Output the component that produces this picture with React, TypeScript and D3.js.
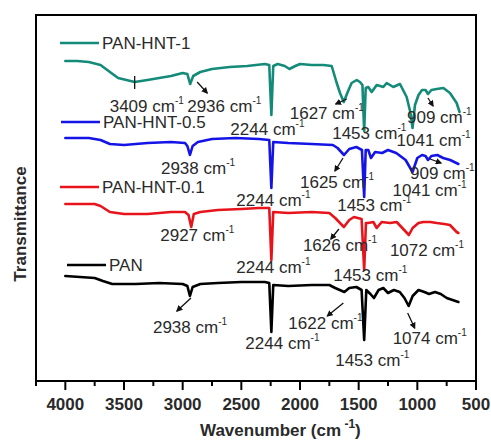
import React from "react";
import * as d3 from "d3";

// FTIR spectra: [wavenumber (cm^-1), transmittance (a.u., stacked with offsets)]
const panHnt1: [number, number][] = [
  [4000, 320], [3900, 320], [3800, 319], [3700, 316], [3620, 309], [3550, 303], [3409, 299],
  [3300, 301], [3200, 303], [3100, 305], [3000, 308], [2960, 307], [2936, 297], [2910, 305],
  [2850, 309], [2750, 312], [2600, 314], [2450, 315], [2300, 317], [2262, 316], [2244, 266],
  [2228, 315], [2190, 317], [2130, 315], [2090, 312], [2040, 315], [2000, 317], [1900, 316],
  [1800, 316], [1730, 315], [1687, 298], [1659, 288], [1627, 279], [1590, 290], [1560, 298],
  [1517, 301], [1489, 299], [1468, 296], [1453, 250], [1440, 293], [1418, 294], [1389, 289],
  [1346, 296], [1290, 294], [1261, 298], [1205, 294], [1148, 297], [1091, 284], [1060, 269],
  [1041, 253], [1020, 276], [990, 286], [960, 291], [930, 291], [909, 287], [880, 291],
  [835, 292], [778, 293], [722, 288], [665, 278], [640, 269],
];

const panHnt05: [number, number][] = [
  [4000, 243], [3800, 243], [3700, 241], [3620, 237], [3500, 236], [3300, 238], [3100, 239],
  [2980, 238], [2960, 235], [2938, 226], [2915, 235], [2870, 239], [2750, 242], [2550, 243],
  [2350, 242], [2262, 241], [2244, 193], [2228, 239], [2100, 238], [1900, 237], [1720, 236],
  [1680, 233], [1625, 226], [1580, 232], [1520, 234], [1472, 231], [1453, 184], [1440, 231],
  [1418, 231], [1395, 223], [1360, 229], [1300, 228], [1250, 231], [1180, 228], [1100, 221],
  [1041, 209], [1000, 223], [960, 226], [930, 225], [909, 221], [880, 225], [830, 226],
  [780, 223], [720, 221], [650, 217],
];

const panHnt01: [number, number][] = [
  [4000, 177], [3750, 177], [3700, 175], [3620, 169], [3500, 167], [3300, 167], [3100, 169],
  [2980, 169], [2950, 166], [2927, 154], [2905, 167], [2850, 169], [2700, 171], [2500, 172],
  [2350, 173], [2262, 173], [2244, 121], [2228, 169], [2100, 168], [1900, 169], [1750, 168],
  [1700, 163], [1626, 154], [1580, 161], [1540, 164], [1475, 162], [1453, 111], [1438, 158],
  [1420, 158], [1375, 159], [1346, 153], [1304, 159], [1233, 158], [1176, 159], [1120, 152],
  [1072, 146], [1040, 153], [990, 158], [949, 159], [890, 159], [835, 158], [770, 157],
  [722, 156], [665, 149], [650, 148],
];

const pan: [number, number][] = [
  [4000, 105], [3750, 103], [3680, 100], [3600, 97], [3400, 97], [3200, 98], [3000, 97],
  [2960, 95], [2938, 85], [2915, 94], [2850, 97], [2700, 98], [2500, 99], [2300, 99],
  [2262, 98], [2244, 49], [2228, 96], [2100, 95], [1900, 96], [1750, 96], [1700, 93],
  [1622, 89], [1580, 93], [1520, 94], [1475, 91], [1453, 41], [1435, 91], [1400, 87],
  [1370, 83], [1330, 91], [1290, 93], [1250, 88], [1200, 91], [1150, 89], [1110, 83],
  [1074, 75], [1040, 85], [990, 91], [940, 89], [900, 87], [850, 89], [800, 87], [750, 83],
  [700, 81], [650, 79],
];

const xTicks = [4000, 3500, 3000, 2500, 2000, 1500, 1000, 500];
const xMinorTicks = [4250, 3750, 3250, 2750, 2250, 1750, 1250, 750];

type Ann = { wn: number; dx: number; dy: number; arrow?: [number, number, number, number]; head?: boolean };

type Series = {
  name: string;
  color: string;
  data: [number, number][];
  legendY: number;
  legendX: number;
  peaks: Ann[];
};

const series: Series[] = [
  {
    name: "PAN-HNT-1", color: "#148a79", data: panHnt1, legendY: 43, legendX: 60,
    peaks: [
      { wn: 3409, dx: -25, dy: 30, arrow: [0, -6, 0, 7], head: false },
      { wn: 2936, dx: -3, dy: 28, arrow: [7, -2, 17, 9], head: true },
      { wn: 2244, dx: -41, dy: 20 },
      { wn: 1627, dx: -54, dy: 17, arrow: [3, -3, -8, 2], head: true },
      { wn: 1453, dx: -32, dy: 8 },
      { wn: 1041, dx: -16, dy: 18 },
      { wn: 909, dx: -21, dy: 29, arrow: [0, 4, 5, 12], head: true },
    ],
  },
  {
    name: "PAN-HNT-0.5", color: "#1414e6", data: panHnt05, legendY: 122, legendX: 61,
    peaks: [
      { wn: 2938, dx: -29, dy: 19 },
      { wn: 2244, dx: -35, dy: 18 },
      { wn: 1625, dx: -44, dy: 33, arrow: [-1, 3, -9, 16], head: true },
      { wn: 1453, dx: -27, dy: 14 },
      { wn: 1041, dx: -20, dy: 24 },
      { wn: 909, dx: -18, dy: 19, arrow: [2, -1, 13, 3], head: true },
    ],
  },
  {
    name: "PAN-HNT-0.1", color: "#e8141c", data: panHnt01, legendY: 187, legendX: 60,
    peaks: [
      { wn: 2927, dx: -31, dy: 14 },
      { wn: 2244, dx: -35, dy: 13 },
      { wn: 1626, dx: -41, dy: 24, arrow: [-5, 2, -13, 12], head: true },
      { wn: 1453, dx: -31, dy: 11 },
      { wn: 1072, dx: -19, dy: 21 },
    ],
  },
  {
    name: "PAN", color: "#000000", data: pan, legendY: 265, legendX: 67,
    peaks: [
      { wn: 2938, dx: -37, dy: 37, arrow: [1, 2, -13, 15], head: true },
      { wn: 2244, dx: -26, dy: 17 },
      { wn: 1622, dx: -56, dy: 37, arrow: [-1, 11, -17, 24], head: true },
      { wn: 1453, dx: -29, dy: 26 },
      { wn: 1074, dx: -16, dy: 38, arrow: [-1, 7, 6, 22], head: true },
    ],
  },
];

const FONT = "'Liberation Sans', Arial, Helvetica, sans-serif";
const TEXT = "#2a2a2a";

export default function App() {
  const W = 491;
  const H = 440;
  const left = 36, right = 476, top = 15, bottom = 381;

  const x = d3.scaleLinear().domain([4250, 500]).range([left, right]);
  const y = d3.scaleLinear().domain([0, bottom - top]).range([bottom, top]);

  const line = d3
    .line<[number, number]>()
    .x((d) => x(d[0]))
    .y((d) => y(d[1]))
    .curve(d3.curveLinear);

  const valueAt = (data: [number, number][], wn: number) => {
    const p = data.find((d) => d[0] === wn);
    return p ? p[1] : 0;
  };

  return (
    <svg width={W} height={H} style={{ position: "absolute", left: 0, top: 0, background: "#fff" }}>
      <defs>
        <marker id="ah" viewBox="0 0 10 10" refX="8" refY="5" markerWidth="5" markerHeight="5" orient="auto">
          <path d="M0,0 L10,5 L0,10 z" fill="#111" />
        </marker>
      </defs>

      {/* spectra */}
      {series.map((s) => (
        <path
          key={s.name}
          d={line(s.data) || ""}
          fill="none"
          stroke={s.color}
          strokeWidth={2.6}
          strokeLinejoin="round"
          strokeLinecap="round"
        />
      ))}

      {/* legend entries */}
      {series.map((s) => (
        <g key={"lg" + s.name}>
          <line x1={s.legendX} x2={s.legendX + 39} y1={s.legendY} y2={s.legendY} stroke={s.color} strokeWidth={2.6} />
          <text x={s.legendX + 42} y={s.legendY + 6} fontFamily={FONT} fontSize={17} fill={TEXT}>
            {s.name}
          </text>
        </g>
      ))}

      {/* peak labels */}
      {series.map((s) =>
        s.peaks.map((p) => {
          const px = x(p.wn);
          const py = y(valueAt(s.data, p.wn));
          return (
            <g key={s.name + p.wn}>
              {p.arrow && (
                <line
                  x1={px + p.arrow[0]}
                  y1={py + p.arrow[1]}
                  x2={px + p.arrow[2]}
                  y2={py + p.arrow[3]}
                  stroke="#111"
                  strokeWidth={1.3}
                  markerEnd={p.head ? "url(#ah)" : undefined}
                />
              )}
              <text x={px + p.dx} y={py + p.dy} fontFamily={FONT} fontSize={17} fill={TEXT}>
                {`${p.wn} cm`}
                <tspan fontSize={10} dy={-8}>-1</tspan>
              </text>
            </g>
          );
        })
      )}

      {/* frame */}
      <rect x={left} y={top} width={right - left} height={bottom - top} fill="none" stroke="#000" strokeWidth={2} />

      {/* x axis ticks */}
      {xTicks.map((t) => (
        <g key={"t" + t}>
          <line x1={x(t)} x2={x(t)} y1={bottom} y2={bottom + 9} stroke="#000" strokeWidth={2} />
          <text x={x(t)} y={410} textAnchor="middle" fontFamily={FONT} fontWeight="bold" fontSize={17} fill={TEXT}>
            {t}
          </text>
        </g>
      ))}
      {xMinorTicks.map((t) => (
        <line key={"m" + t} x1={x(t)} x2={x(t)} y1={bottom} y2={bottom + 5} stroke="#000" strokeWidth={2} />
      ))}

      {/* axis titles */}
      <text x={200} y={436} fontFamily={FONT} fontWeight="bold" fontSize={17} fill={TEXT}>
        {"Wavenumber (cm"}
        <tspan fontSize={12} dy={-8}>{" -1"}</tspan>
        <tspan dy={8}>)</tspan>
      </text>
      <text
        transform="translate(26,224) rotate(-90)"
        textAnchor="middle"
        fontFamily={FONT}
        fontWeight="bold"
        fontSize={17}
        fill={TEXT}
      >
        Transmittance
      </text>
    </svg>
  );
}
